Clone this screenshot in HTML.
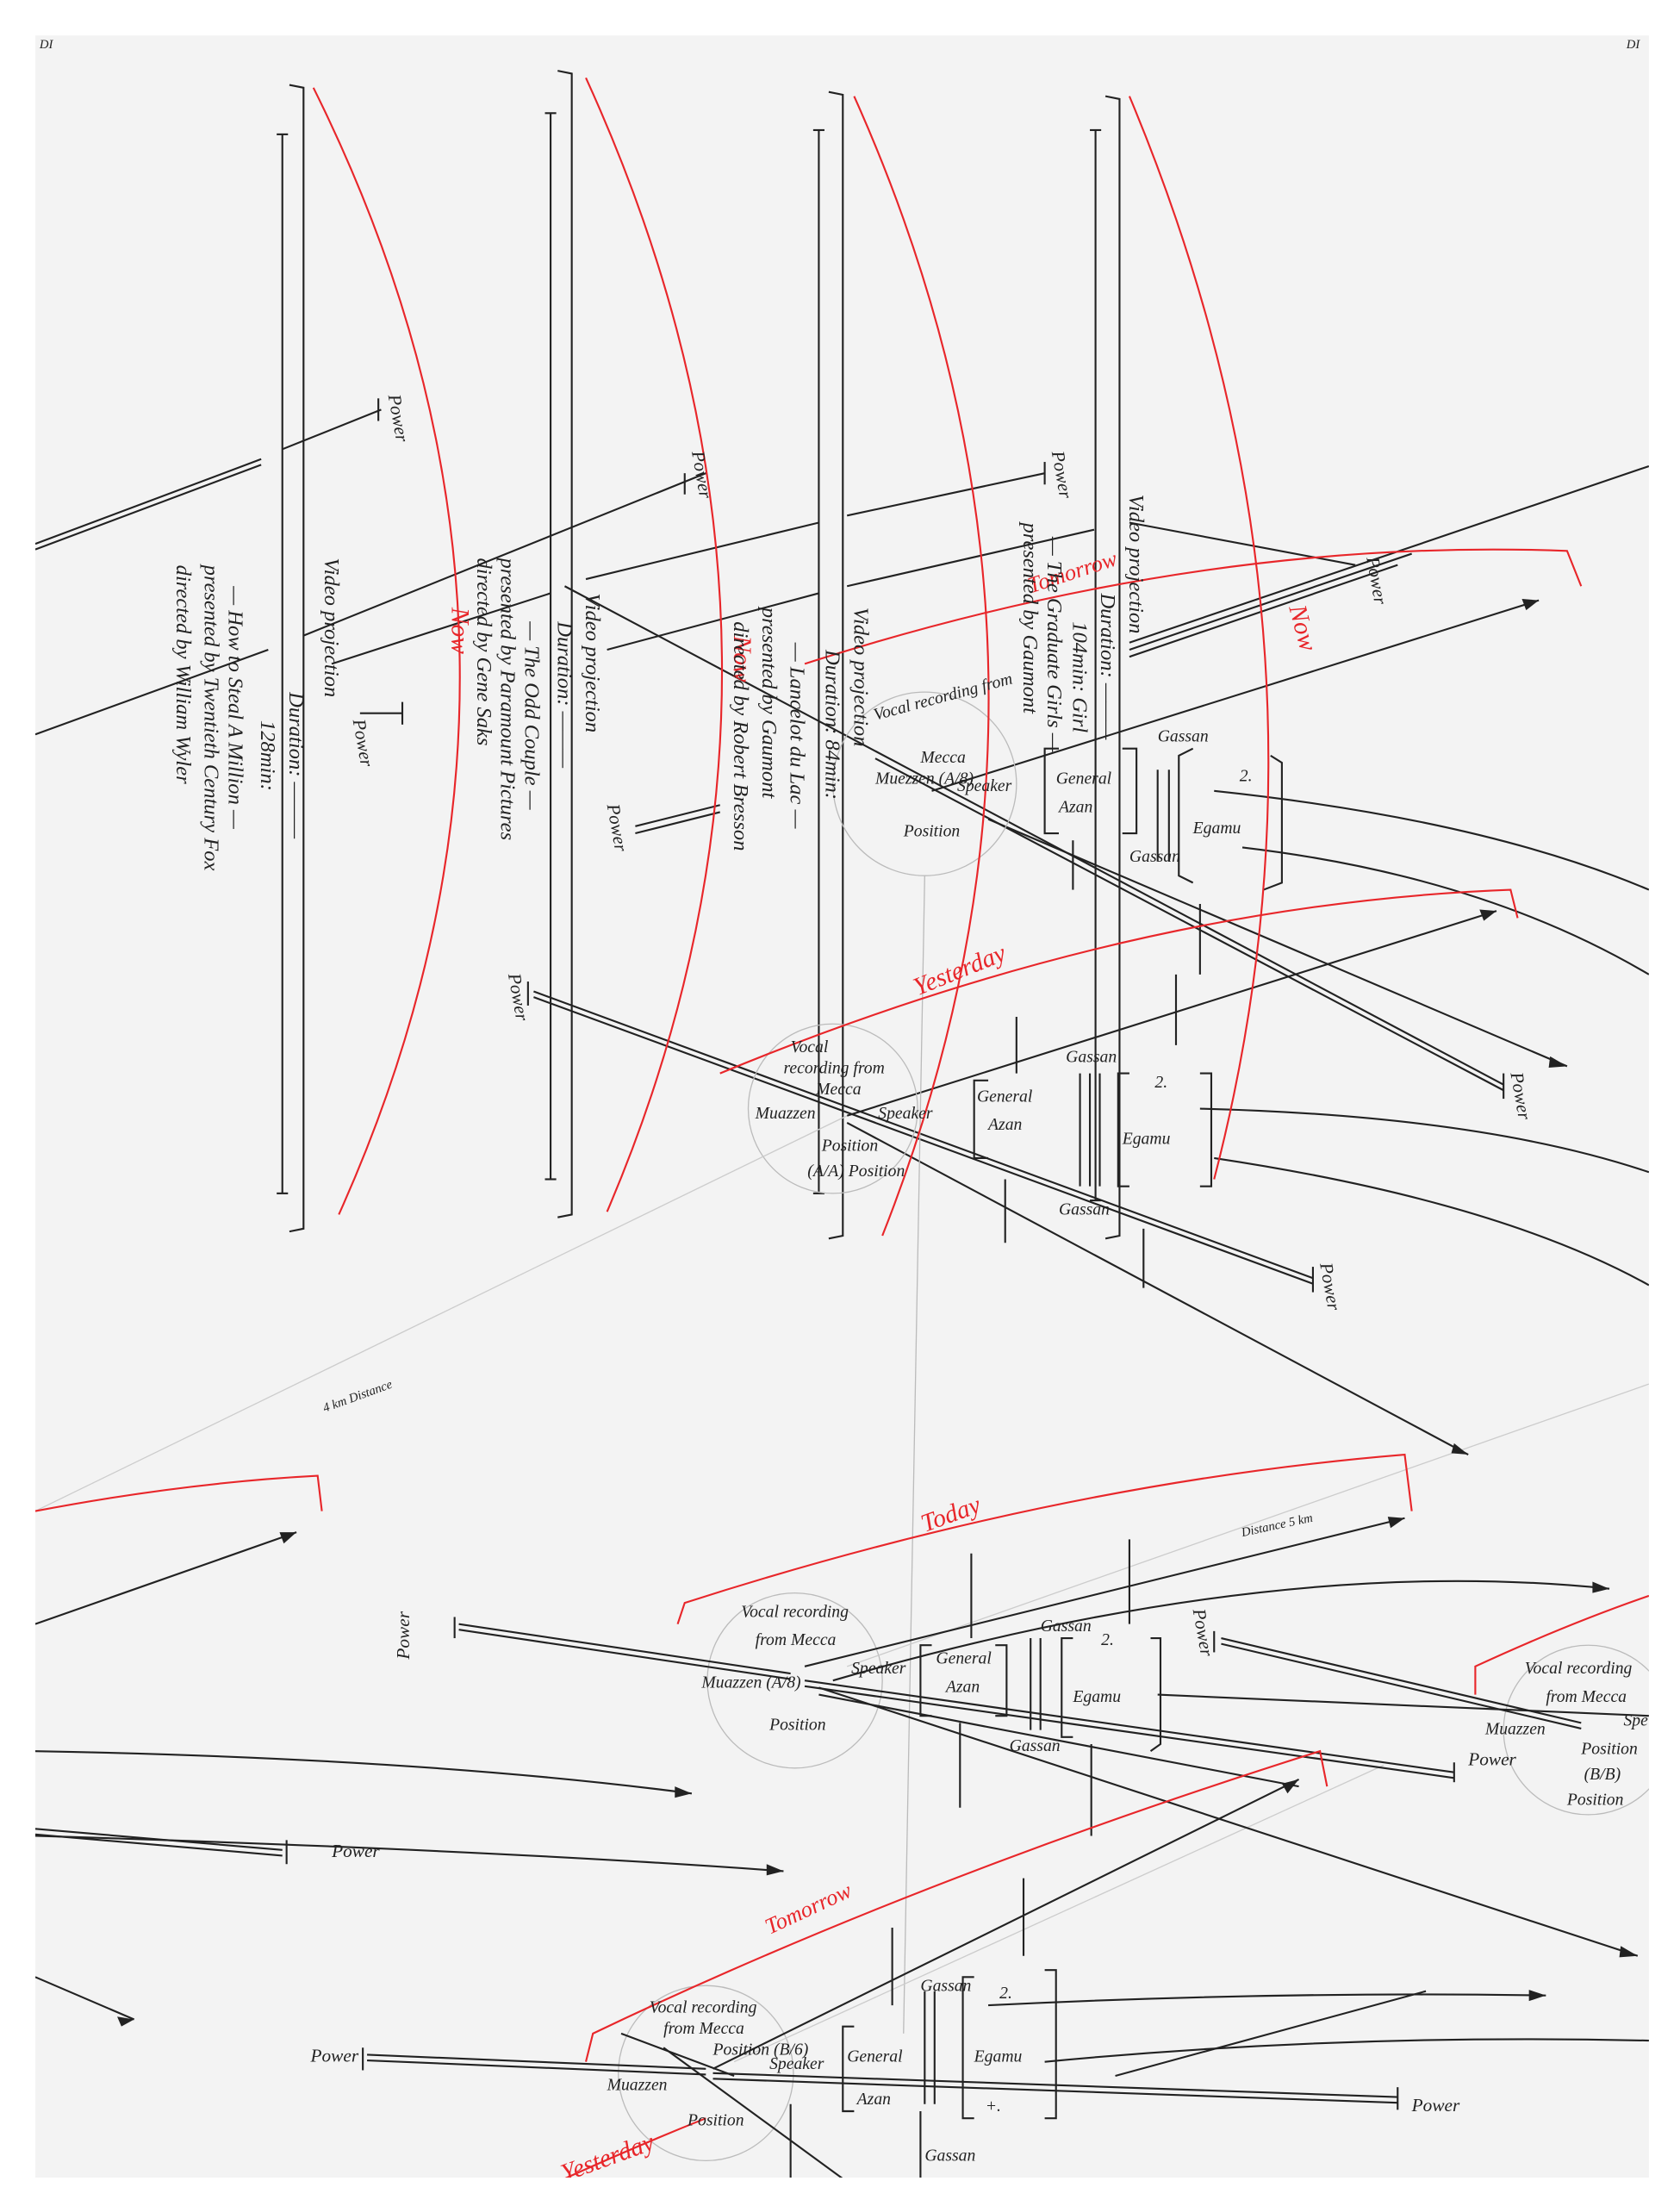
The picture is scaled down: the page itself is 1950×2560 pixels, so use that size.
<!DOCTYPE html>
<html><head><meta charset="utf-8"><style>
html,body{margin:0;padding:0;background:#fff;}
svg{display:block}
text{font-family:"Liberation Serif",serif;font-style:italic;fill:#222}
.r{fill:#e8262a}
</style></head><body>
<svg width="1950" height="2560" viewBox="0 0 1190 1562" xmlns="http://www.w3.org/2000/svg">
<defs><clipPath id="pg"><rect x="25" y="25" width="1143" height="1517"/></clipPath></defs>
<rect x="0" y="0" width="1190" height="1562" fill="#fff"/>
<rect x="25" y="25" width="1143" height="1517" fill="#f3f3f3"/>
<text x="28" y="34" font-size="9" fill="#777">DI</text>
<text x="1152" y="34" font-size="9" fill="#777">DI</text>
<g clip-path="url(#pg)">
<g stroke="#222" stroke-width="1.3" fill="none">
<path d="M205,60 L215,62 L215,870 L205,872"/><line x1="200" y1="95" x2="200" y2="845"/><line x1="196" y1="95" x2="204" y2="95"/><line x1="196" y1="845" x2="204" y2="845"/>
<path d="M395,50 L405,52 L405,860 L395,862"/><line x1="390" y1="80" x2="390" y2="835"/><line x1="386" y1="80" x2="394" y2="80"/><line x1="386" y1="835" x2="394" y2="835"/>
<path d="M587,65 L597,67 L597,875 L587,877"/><line x1="580" y1="92" x2="580" y2="845"/><line x1="576" y1="92" x2="584" y2="92"/><line x1="576" y1="845" x2="584" y2="845"/>
<path d="M783,68 L793,70 L793,875 L783,877"/><line x1="776" y1="92" x2="776" y2="850"/><line x1="772" y1="92" x2="780" y2="92"/><line x1="772" y1="850" x2="780" y2="850"/>
<line x1="25" y1="385" x2="185" y2="325"/><line x1="25" y1="389" x2="185" y2="329"/>
<line x1="200" y1="318" x2="270" y2="290"/><line x1="268" y1="282" x2="268" y2="298"/>
<line x1="25" y1="520" x2="190" y2="460"/><line x1="215" y1="450" x2="500" y2="335"/><line x1="485" y1="335" x2="485" y2="350" />
<line x1="235" y1="470" x2="390" y2="420"/><line x1="415" y1="410" x2="580" y2="370"/><line x1="600" y1="365" x2="740" y2="335"/><line x1="740" y1="327" x2="740" y2="343"/>
<line x1="430" y1="460" x2="580" y2="420"/><line x1="600" y1="415" x2="775" y2="375"/><line x1="800" y1="370" x2="960" y2="400"/>
<line x1="800" y1="455" x2="1168" y2="330"/><line x1="800" y1="460" x2="1000" y2="392"/><line x1="800" y1="465" x2="990" y2="400"/>
<line x1="255" y1="505" x2="285" y2="505"/><line x1="285" y1="497" x2="285" y2="513"/>
<line x1="450" y1="585" x2="510" y2="570"/><line x1="450" y1="590" x2="510" y2="575"/>
<!-- long lines -->
<line x1="400" y1="415" x2="1065" y2="768"/><line x1="620" y1="537" x2="1065" y2="772"/><line x1="1065" y1="760" x2="1065" y2="778"/>
<line x1="378" y1="702" x2="930" y2="905"/><line x1="378" y1="706" x2="930" y2="909"/><line x1="374" y1="695" x2="374" y2="712"/><line x1="930" y1="897" x2="930" y2="915"/>
<line x1="700" y1="580" x2="1110" y2="755"/>
<line x1="600" y1="795" x2="1040" y2="1030"/>
<line x1="660" y1="560" x2="1090" y2="425"/><line x1="600" y1="790" x2="1060" y2="645"/>
<path d="M860,560 Q1050,580 1168,630"/><path d="M880,600 Q1050,620 1168,690"/><path d="M850,785 Q1050,790 1168,830"/><path d="M860,820 Q1060,850 1168,910"/>
<path d="M750,530 L740,530 L740,590 L750,590"/><path d="M795,530 L805,530 L805,590 L795,590"/><line x1="820" y1="545" x2="820" y2="610"/><line x1="828" y1="545" x2="828" y2="610"/><path d="M845,530 L835,535 L835,620 L845,625"/><path d="M900,535 L908,540 L908,625 L895,630"/>
<path d="M700,765 L690,765 L690,820 L700,820"/><line x1="765" y1="760" x2="765" y2="840"/><line x1="772" y1="760" x2="772" y2="840"/><line x1="779" y1="760" x2="779" y2="840"/><path d="M800,760 L792,760 L792,840 L800,840"/><path d="M850,760 L858,760 L858,840 L850,840"/>
<line x1="712" y1="835" x2="712" y2="880"/><line x1="810" y1="870" x2="810" y2="912"/><line x1="850" y1="640" x2="850" y2="690"/><line x1="760" y1="595" x2="760" y2="630"/>
<line x1="720" y1="720" x2="720" y2="760"/><line x1="833" y1="690" x2="833" y2="740"/>
<circle cx="655" cy="555" r="65" stroke="#bbb" stroke-width="0.8"/>
<circle cx="590" cy="785" r="60" stroke="#bbb" stroke-width="0.8"/>
<circle cx="563" cy="1190" r="62" stroke="#bbb" stroke-width="0.8"/>
<circle cx="1125" cy="1225" r="60" stroke="#bbb" stroke-width="0.8"/>
<circle cx="500" cy="1468" r="62" stroke="#bbb" stroke-width="0.8"/>
<line x1="655" y1="620" x2="640" y2="1440" stroke="#bbb" stroke-width="0.8"/>
<line x1="25" y1="1070" x2="600" y2="790" stroke="#ccc" stroke-width="0.8"/>
<line x1="1168" y1="980" x2="600" y2="1180" stroke="#ccc" stroke-width="0.8"/>
<line x1="980" y1="1250" x2="520" y2="1460" stroke="#ccc" stroke-width="0.8"/>
<line x1="25" y1="1150" x2="210" y2="1085"/><path d="M25,1240 Q300,1245 490,1270"/><line x1="25" y1="1295" x2="200" y2="1310"/><line x1="25" y1="1299" x2="200" y2="1314"/><line x1="203" y1="1303" x2="203" y2="1320"/>
<path d="M25,1300 Q350,1310 555,1325"/><line x1="25" y1="1400" x2="95" y2="1430"/>
<line x1="325" y1="1150" x2="560" y2="1185"/><line x1="325" y1="1154" x2="560" y2="1189"/><line x1="322" y1="1145" x2="322" y2="1160"/>
<line x1="570" y1="1190" x2="1030" y2="1255"/><line x1="570" y1="1194" x2="1030" y2="1259"/><line x1="1030" y1="1248" x2="1030" y2="1262"/>
<line x1="570" y1="1180" x2="995" y2="1075"/><path d="M590,1190 Q900,1100 1140,1125"/><line x1="580" y1="1195" x2="1160" y2="1385"/><line x1="580" y1="1200" x2="920" y2="1265"/>
<line x1="865" y1="1160" x2="1120" y2="1220"/><line x1="865" y1="1164" x2="1120" y2="1224"/><line x1="860" y1="1155" x2="860" y2="1170"/>
<line x1="820" y1="1200" x2="1168" y2="1215"/>
<line x1="260" y1="1455" x2="500" y2="1465"/><line x1="260" y1="1459" x2="500" y2="1469"/><line x1="257" y1="1450" x2="257" y2="1466"/>
<line x1="505" y1="1468" x2="990" y2="1485"/><line x1="505" y1="1472" x2="990" y2="1489"/><line x1="990" y1="1478" x2="990" y2="1494"/>
<line x1="505" y1="1465" x2="920" y2="1260"/><path d="M700,1420 Q900,1410 1095,1413"/><path d="M740,1460 Q950,1440 1168,1445"/><line x1="790" y1="1470" x2="1010" y2="1410"/>
<line x1="470" y1="1450" x2="600" y2="1545"/><line x1="440" y1="1440" x2="520" y2="1470"/>
<path d="M660,1165 L652,1165 L652,1215 L660,1215"/><path d="M705,1165 L713,1165 L713,1215 L705,1215"/><line x1="730" y1="1160" x2="730" y2="1225"/><line x1="737" y1="1160" x2="737" y2="1225"/><path d="M760,1160 L752,1160 L752,1230 L760,1230"/><path d="M815,1160 L822,1160 L822,1235 L815,1240"/>
<line x1="688" y1="1100" x2="688" y2="1160"/><line x1="800" y1="1090" x2="800" y2="1150"/><line x1="680" y1="1220" x2="680" y2="1280"/><line x1="773" y1="1235" x2="773" y2="1300"/>
<path d="M605,1435 L597,1435 L597,1495 L605,1495"/><line x1="655" y1="1410" x2="655" y2="1490"/><line x1="662" y1="1410" x2="662" y2="1490"/><path d="M690,1400 L682,1400 L682,1500 L690,1500"/><path d="M740,1395 L748,1395 L748,1500 L740,1500"/>
<line x1="632" y1="1365" x2="632" y2="1420"/><line x1="725" y1="1330" x2="725" y2="1385"/><line x1="652" y1="1495" x2="652" y2="1545"/><line x1="560" y1="1490" x2="560" y2="1545"/>
</g>
<g fill="#222">
<polygon points="1090,425 1078,424 1081,432"/><polygon points="1060,645 1048,644 1051,652"/><polygon points="1110,755 1098,748 1097,756"/><polygon points="1040,1030 1030,1022 1028,1029"/>
<polygon points="210,1085 198,1085 201,1093"/><polygon points="490,1270 478,1265 478,1273"/><polygon points="555,1325 543,1320 543,1328"/><polygon points="95,1430 83,1428 86,1435"/>
<polygon points="995,1075 983,1074 985,1082"/><polygon points="1140,1125 1128,1120 1128,1128"/><polygon points="1160,1385 1148,1378 1147,1386"/>
<polygon points="920,1260 908,1263 912,1270"/><polygon points="1095,1413 1083,1409 1083,1417"/>
</g>
<g stroke="#e8262a" stroke-width="1.3" fill="none">
<path d="M222,62 Q420,460 240,860"/><path d="M415,55 Q600,460 430,858"/><path d="M605,68 Q785,470 625,875"/><path d="M800,68 Q960,450 860,835"/>
<path d="M570,470 Q850,380 1110,390 L1120,415"/>
<path d="M510,760 Q800,640 1070,630 L1075,650"/>
<path d="M480,1150 L485,1135 Q750,1050 995,1030 L1000,1070"/>
<path d="M25,1070 Q130,1050 225,1045 L228,1070"/>
<path d="M1045,1200 L1045,1180 Q1110,1150 1168,1130"/>
<path d="M415,1460 L420,1440 Q650,1330 935,1240 L940,1265"/>
<path d="M395,1545 Q450,1520 500,1500"/>
</g>
<text class="r" font-size="18" transform="translate(650,705) rotate(-22)">Yesterday</text>
<text class="r" font-size="18" transform="translate(655,1085) rotate(-20)">Today</text>
<text class="r" font-size="16" transform="translate(545,1370) rotate(-25)">Tomorrow</text>
<text class="r" font-size="18" transform="translate(400,1545) rotate(-20)">Yesterday</text>
<text class="r" font-size="16" transform="translate(730,420) rotate(-18)">Tomorrow</text>
<text class="r" font-size="18" transform="translate(913,430) rotate(75)">Now</text>
<text class="r" font-size="18" transform="translate(320,430) rotate(90)">Now</text>
<text class="r" font-size="18" transform="translate(520,450) rotate(90)">Now</text>
<g font-size="15">
<text transform="translate(230,395) rotate(90)">Video   projection</text>
<text transform="translate(205,490) rotate(90)">Duration: ———</text>
<text transform="translate(185,510) rotate(90)">128min:</text>
<text transform="translate(162,415) rotate(90)">— How to Steal A Million —</text>
<text transform="translate(145,400) rotate(90)">presented by Twentieth Century Fox</text>
<text transform="translate(125,400) rotate(90)">directed by William Wyler</text>
<text transform="translate(415,420) rotate(90)">Video projection</text>
<text transform="translate(395,440) rotate(90)">Duration: ———</text>
<text transform="translate(372,440) rotate(90)">— The Odd Couple —</text>
<text transform="translate(355,395) rotate(90)">presented by Paramount Pictures</text>
<text transform="translate(338,395) rotate(90)">directed by Gene Saks</text>
<text transform="translate(605,430) rotate(90)">Video projection</text>
<text transform="translate(585,460) rotate(90)">Duration: 84min:</text>
<text transform="translate(560,455) rotate(90)">— Lancelot du Lac —</text>
<text transform="translate(540,430) rotate(90)">presented by Gaumont</text>
<text transform="translate(520,440) rotate(90)">directed by Robert Bresson</text>
<text transform="translate(800,350) rotate(90)">Video  projection</text>
<text transform="translate(780,420) rotate(90)">Duration: ———</text>
<text transform="translate(760,440) rotate(90)">104min: Girl</text>
<text transform="translate(742,380) rotate(90)">— The Graduate Girls —</text>
<text transform="translate(725,370) rotate(90)">presented by Gaumont</text>
</g>
<g font-size="13">
<text transform="translate(275,280) rotate(80)">Power</text>
<text transform="translate(490,320) rotate(80)">Power</text>
<text transform="translate(745,320) rotate(80)">Power</text>
<text transform="translate(968,395) rotate(80)">Power</text>
<text transform="translate(250,510) rotate(80)">Power</text>
<text transform="translate(430,570) rotate(80)">Power</text>
<text transform="translate(360,690) rotate(80)">Power</text>
<text transform="translate(1070,760) rotate(80)">Power</text>
<text transform="translate(935,895) rotate(80)">Power</text>
<text transform="translate(290,1140) rotate(-90)" dx="-35">Power</text>
<text transform="translate(1040,1250)">Power</text>
<text transform="translate(235,1315)">Power</text>
<text transform="translate(220,1460)">Power</text>
<text transform="translate(1000,1495)">Power</text>
<text transform="translate(845,1140) rotate(80)">Power</text>
</g>
<g font-size="12">
<text x="620" y="510" transform="rotate(-15 620 510)">Vocal  recording  from</text>
<text x="652" y="540">Mecca</text>
<text x="620" y="555">Muezzen (A/8)</text>
<text x="678" y="560">Speaker</text>
<text x="640" y="592">Position</text>
<text x="748" y="555">General</text><text x="750" y="575">Azan</text>
<text x="820" y="525">Gassan</text><text x="845" y="590">Egamu</text><text x="800" y="610">Gassan</text><text x="878" y="553">2.</text>
<text x="560" y="745">Vocal</text><text x="555" y="760">recording  from</text><text x="578" y="775">Mecca</text>
<text x="535" y="792">Muazzen</text><text x="622" y="792">Speaker</text><text x="582" y="815">Position</text><text x="572" y="833">(A/A) Position</text>
<text x="692" y="780">General</text><text x="700" y="800">Azan</text><text x="755" y="752">Gassan</text><text x="795" y="810">Egamu</text><text x="818" y="770">2.</text><text x="750" y="860">Gassan</text>
<text x="525" y="1145">Vocal recording</text><text x="535" y="1165">from Mecca</text><text x="497" y="1195">Muazzen (A/8)</text><text x="545" y="1225">Position</text><text x="603" y="1185">Speaker</text>
<text x="663" y="1178">General</text><text x="670" y="1198">Azan</text><text x="737" y="1155">Gassan</text><text x="760" y="1205">Egamu</text><text x="780" y="1165">2.</text><text x="715" y="1240">Gassan</text>
<text x="1080" y="1185">Vocal  recording</text><text x="1095" y="1205">from Mecca</text><text x="1052" y="1228">Muazzen</text><text x="1150" y="1222">Spe</text><text x="1120" y="1242">Position</text><text x="1122" y="1260">(B/B)</text><text x="1110" y="1278">Position</text>
<text x="460" y="1425">Vocal recording</text><text x="470" y="1440">from Mecca</text><text x="505" y="1455">Position (B/6)</text><text x="430" y="1480">Muazzen</text><text x="487" y="1505">Position</text><text x="545" y="1465">Speaker</text>
<text x="600" y="1460">General</text><text x="607" y="1490">Azan</text><text x="652" y="1410">Gassan</text><text x="690" y="1460">Egamu</text><text x="708" y="1415">2.</text><text x="655" y="1530">Gassan</text><text x="698" y="1495">+.</text>
</g>
<text font-size="9" fill="#999" transform="translate(230,1000) rotate(-20)">4 km  Distance</text>
<text font-size="9" fill="#999" transform="translate(880,1088) rotate(-12)">Distance  5 km</text>
</g>
</svg>
</body></html>
